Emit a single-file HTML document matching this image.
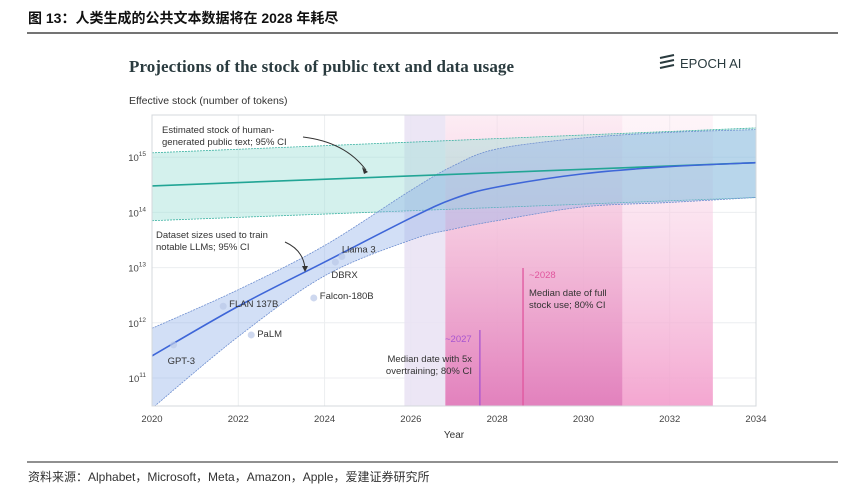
<!DOCTYPE html>
<html><head><meta charset="utf-8"><style>
body{margin:0;width:858px;height:496px;background:#fff;overflow:hidden;font-family:"Liberation Sans","Noto Sans CJK SC",sans-serif;}
svg{position:absolute;left:0;top:0}
</style></head><body>
<svg width="858" height="496">
<text x="28" y="23" font-size="14" font-weight="bold" fill="#111" font-family="Liberation Sans, Noto Sans CJK SC, sans-serif">图 13：人类生成的公共文本数据将在 2028 年耗尽</text>
<line x1="27" y1="33" x2="838" y2="33" stroke="#222" stroke-width="1.2"/>
<text x="129" y="72" font-size="17" font-weight="bold" fill="#2a3b3f" font-family="Liberation Serif, serif" textLength="385">Projections of the stock of public text and data usage</text>
<g>
<path d="M660 58 L674 55 M660 63 L674 60 M660 68 L674 65" stroke="#2a3b3f" stroke-width="2"/>
<text x="680" y="68" font-size="13" fill="#2a3b3f">EPOCH AI</text>
</g>
<text x="129" y="104" font-size="10.5" fill="#333">Effective stock (number of tokens)</text>
<g id="chart"></g>
<text x="454" y="438" font-size="10" fill="#333" text-anchor="middle">Year</text>
<line x1="27" y1="462" x2="838" y2="462" stroke="#222" stroke-width="1"/>
<text x="28" y="481" font-size="12" fill="#333">资料来源：Alphabet，Microsoft，Meta，Amazon，Apple，爱建证券研究所</text>
</svg>
<script>
const years=[2020,2022,2024,2026,2027,2028,2030,2032,2034];
const dsMedian=[11.4,12.3,13.1,13.9,14.25,14.46,14.7,14.83,14.9];
const dsUpper=[11.9,12.6,13.4,14.4,14.85,15.15,15.35,15.45,15.5];
const dsLower=[10.45,11.75,12.85,13.5,13.7,13.85,14.1,14.18,14.27];
const stockYears=[2020,2034];
const stockMedian=[14.48,14.9];
const stockUpper=[15.08,15.53];
const stockLower=[13.85,14.27];
const models=["GPT-3","FLAN 137B","PaLM","Falcon-180B","DBRX","Llama 3"];
const modelYear=[2020.5,2021.65,2022.3,2023.75,2024.25,2024.4];
const modelLog=[11.6,12.3,11.78,12.45,13.1,13.2];
const xTicks=[2020,2022,2024,2026,2028,2030,2032,2034];
const yTicks=[11,12,13,14,15];
const overtrainCI=[2025.85,2027.6,2030.9];
const fullUseCI=[2026.8,2028.6,2033];

const X0=152,X1=756,Y0=115,Y1=406;
const xs=y=>X0+(y-2020)*(X1-X0)/14;
const ys=l=>378-(l-11)*55.2;
const NS="http://www.w3.org/2000/svg";
const g=document.getElementById('chart');
function mk(t,a,p){const e=document.createElementNS(NS,t);for(const k in a)e.setAttribute(k,a[k]);(p||g).appendChild(e);return e;}
const defs=mk('defs',{});
defs.innerHTML='<clipPath id="cp"><rect x="152" y="115" width="604" height="291"/></clipPath><linearGradient id="pk" x1="0" y1="0" x2="0" y2="1"><stop offset="0" stop-color="#f7c9df" stop-opacity="0.2"/><stop offset="0.45" stop-color="#f0b3d3" stop-opacity="0.65"/><stop offset="1" stop-color="#e07dbb" stop-opacity="0.9"/></linearGradient><linearGradient id="pk2" x1="0" y1="0" x2="0" y2="1"><stop offset="0" stop-color="#fbe3ee" stop-opacity="0.35"/><stop offset="1" stop-color="#f29ccb" stop-opacity="0.9"/></linearGradient>';
yTicks.forEach(t=>{const l=mk('line',{x1:X0,x2:X1,y1:ys(t),y2:ys(t),stroke:'#eceef0'});
 const tx=mk('text',{x:X0-6,y:ys(t)+4,'font-size':9.5,fill:'#444','text-anchor':'end'});tx.innerHTML='10<tspan dy="-5" font-size="6.5">'+t+'</tspan>';});
xTicks.forEach(t=>{const l=mk('line',{x1:xs(t),x2:xs(t),y1:Y0,y2:Y1,stroke:'#eceef0'});
 const tx=mk('text',{x:xs(t),y:Y1+16,'font-size':9.5,fill:'#444','text-anchor':'middle'});tx.textContent=t;});
const cg=mk('g',{'clip-path':'url(#cp)'});
let r=mk('rect',{x:xs(overtrainCI[0]),y:Y0,width:xs(fullUseCI[0])-xs(overtrainCI[0]),height:Y1-Y0,fill:'#e9e2f3',opacity:0.85},cg);
r=mk('rect',{x:xs(fullUseCI[0]),y:Y0,width:xs(fullUseCI[2])-xs(fullUseCI[0]),height:Y1-Y0,fill:'url(#pk2)'},cg);
r=mk('rect',{x:xs(fullUseCI[0]),y:Y0,width:xs(overtrainCI[2])-xs(fullUseCI[0]),height:Y1-Y0,fill:'url(#pk)'},cg);
const sp=(a)=>a.map((v,i)=>[xs(stockYears[i]),ys(v)]);
const path=pts=>pts.map((p,i)=>(i?'L':'M')+p[0].toFixed(1)+' '+p[1].toFixed(1)).join(' ');
function smooth(yv,lv){const p=yv.map((y,i)=>[xs(y),ys(lv[i])]);let d='M'+p[0][0]+' '+p[0][1];for(let i=0;i<p.length-1;i++){const p0=p[i-1]||p[i],p1=p[i],p2=p[i+1],p3=p[i+2]||p2;d+=` C${p1[0]+(p2[0]-p0[0])/6} ${p1[1]+(p2[1]-p0[1])/6} ${p2[0]-(p3[0]-p1[0])/6} ${p2[1]-(p3[1]-p1[1])/6} ${p2[0]} ${p2[1]}`;}return d;}
const su=sp(stockUpper),sl=sp(stockLower);
let e=mk('path',{d:path(su.concat(sl.slice().reverse()))+'Z',fill:'#9fe0d6',opacity:0.45},cg);
[su,sl].forEach(p=>{const l=mk('path',{d:path(p),stroke:'#3db3a3','stroke-width':0.8,'stroke-dasharray':'2 1',fill:'none'},cg);});
const up=smooth(years,dsUpper),lo=smooth(years.slice().reverse(),dsLower.slice().reverse());
e=mk('path',{d:up+' L'+lo.slice(1)+'Z',fill:'#8fb0e8',opacity:0.4},cg);
[up,smooth(years,dsLower)].forEach(d=>{const l=mk('path',{d:d,stroke:'#6f8fd0','stroke-width':0.8,'stroke-dasharray':'2 1',fill:'none'},cg);});
e=mk('path',{d:path(sp(stockMedian)),stroke:'#22a595','stroke-width':1.6,fill:'none'},cg);
e=mk('path',{d:smooth(years,dsMedian),stroke:'#3e66d8','stroke-width':1.6,fill:'none'},cg);
e=mk('line',{x1:xs(overtrainCI[1]),x2:xs(overtrainCI[1]),y1:330,y2:Y1,stroke:'#a855d0','stroke-width':1.3},cg);
e=mk('line',{x1:xs(fullUseCI[1]),x2:xs(fullUseCI[1]),y1:268,y2:Y1,stroke:'#e0559d','stroke-width':1.3},cg);
const offs=[[-6,16],[6,-2],[6,-1],[6,-2],[-4,13],[0,-7]];
models.forEach((m,i)=>{const cx=xs(modelYear[i]),cy=ys(modelLog[i]);
 const c=mk('circle',{cx:cx,cy:cy,r:3.5,fill:'#b9c8e8',opacity:0.7});
 const t=mk('text',{x:cx+offs[i][0],y:cy+offs[i][1]+3,'font-size':9.5,fill:'#333'});t.textContent=m;});
e=mk('rect',{x:X0,y:Y0,width:X1-X0,height:Y1-Y0,fill:'none',stroke:'#d4d8dc'});
function txt(x,y,s,c,anc,name){const t=mk('text',{x:x,y:y,'font-size':9.5,fill:c||'#333','text-anchor':anc||'start'});t.textContent=s;}
txt(162,133,'Estimated stock of human-','#333','start','stock-annotation');
txt(162,145,'generated public text; 95% CI','#333','start','stock-annotation');
txt(156,238,'Dataset sizes used to train','#333','start','dataset-annotation');
txt(156,250,'notable LLMs; 95% CI','#333','start','dataset-annotation');
e=mk('path',{d:'M303 137 Q345 142 366 170',stroke:'#333','stroke-width':1,fill:'none'});
e=mk('path',{d:'M285 242 Q303 250 305 268',stroke:'#333','stroke-width':1,fill:'none'});
e=mk('polygon',{points:'362,167 368,172 364,174',fill:'#333'});
e=mk('polygon',{points:'302,266 308,266 305,272',fill:'#333'});
txt(445,342,'~2027','#a855d0','start','overtrain-date-label');
txt(472,362,'Median date with 5x','#333','end','overtrain-annotation');
txt(472,374,'overtraining; 80% CI','#333','end','overtrain-annotation');
txt(529,278,'~2028','#e0559d','start','full-use-date-label');
txt(529,296,'Median date of full','#333','start','full-use-annotation');
txt(529,308,'stock use; 80% CI','#333','start','full-use-annotation');
</script>
</body></html>
